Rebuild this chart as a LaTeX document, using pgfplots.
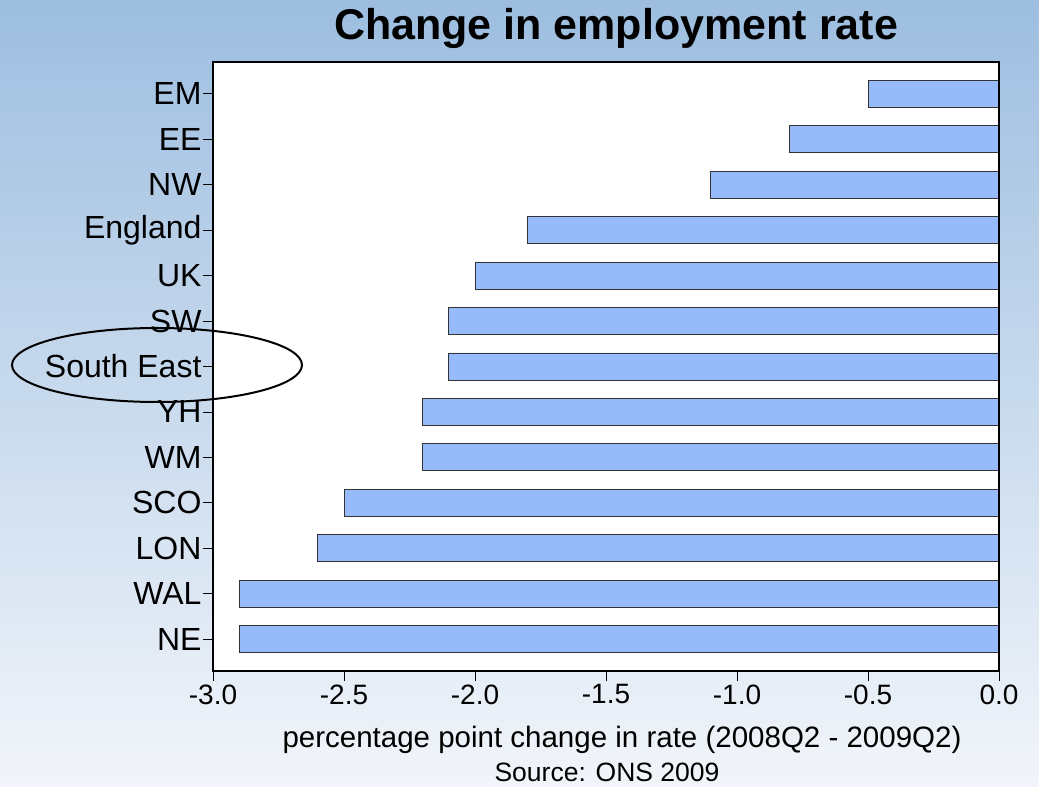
\documentclass[border=0pt]{standalone}
\usepackage{fontspec}
\setmainfont{Liberation Sans}
\usepackage{pgfplots}
\pgfplotsset{compat=1.18}
\definecolor{bgtop}{RGB}{157,190,224}
\definecolor{bgbot}{RGB}{242,245,250}
\definecolor{barfill}{RGB}{150,186,250}
\begin{document}
\begin{tikzpicture}[x=1pt,y=1pt]
\shade[top color=bgtop,bottom color=bgbot] (0,0) rectangle (1039,787);
\begin{axis}[
  at={(213pt,116pt)}, anchor=south west,
  width=786pt, height=609pt, scale only axis,
  xmin=-3, xmax=0, ymin=-0.7, ymax=12.7,
  axis background/.style={fill=white},
  axis on top,
  xbar, bar width=27pt,
  xtick={-3,-2.5,-2,-1.5,-1,-0.5,0},
  xticklabels={-3.0,-2.5,-2.0,-1.5,-1.0,-0.5,0.0},
  ytick={0,1,2,3,4,5,6,7,8,9,10,11,12},
  yticklabels={NE,WAL,LON,SCO,WM,YH,South East,SW,UK,England,NW,EE,EM},
  tick align=outside, xtick pos=lower, ytick pos=left,
  major tick length=10pt,
  tick style={black, line width=0.8pt},
  axis line style={black, line width=1.2pt},
  xticklabel style={font=\fontsize{28}{32}\selectfont},
  yticklabel style={font=\fontsize{32}{36}\selectfont, xshift=2pt},
]
\addplot[fill=barfill, draw=black!80, line width=0.8pt] coordinates {(-2.9,0) (-2.9,1) (-2.6,2) (-2.5,3) (-2.2,4) (-2.2,5) (-2.1,6) (-2.1,7) (-2.0,8) (-1.8,9) (-1.1,10) (-0.8,11) (-0.5,12)};
\end{axis}
\node[font=\fontsize{43}{48}\bfseries\selectfont] at (616,759) {Change in employment rate};
\node[font=\fontsize{29.5}{34}\selectfont] at (622,47) {percentage point change in rate (2008Q2 - 2009Q2)};
\node[font=\fontsize{26.5}{30}\selectfont] at (607,15) {Source: ONS 2009};
\draw[black, line width=2pt] (157,422) ellipse [x radius=145, y radius=37];
\end{tikzpicture}
\end{document}
